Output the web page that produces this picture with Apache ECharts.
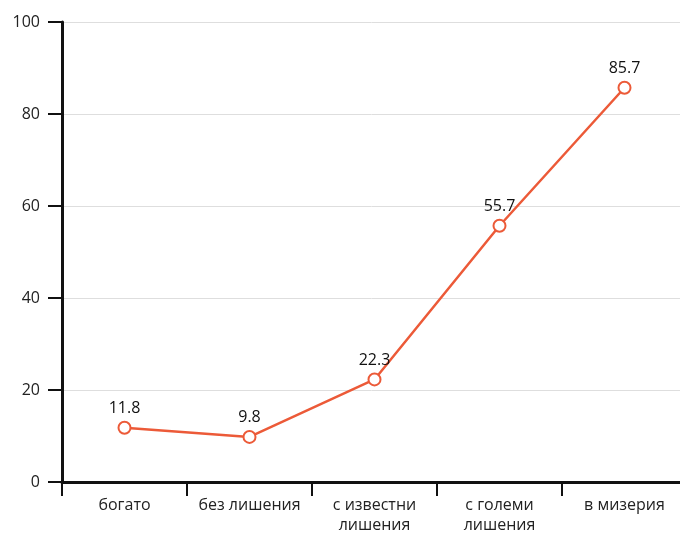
<!DOCTYPE html>
<html>
<head>
<meta charset="utf-8">
<script src="https://cdn.jsdelivr.net/npm/echarts@6/dist/echarts.min.js"></script>
<style>
  html, body { margin: 0; padding: 0; background: #fff; }
  #chart { width: 680px; height: 533px; }
</style>
</head>
<body>
<div id="chart"></div>
<script>
// Living conditions categories and share of respondents (%)
const categories = ['богато', 'без лишения', 'с известни\nлишения', 'с големи\nлишения', 'в мизерия'];
const values = [11.8, 9.8, 22.3, 55.7, 85.7];
const yTicks = { min: 0, max: 100, interval: 20 };

const FONT = '"Open Sans", "Noto Sans", sans-serif';
const LINE_COLOR = '#ec5a38';
const chart = echarts.init(document.getElementById('chart'));

chart.setOption({
  animation: false,
  grid: { left: 62, top: 22, width: 625, height: 460, containLabel: false, outerBoundsMode: 'none' },
  xAxis: {
    type: 'category',
    data: categories,
    boundaryGap: true,
    axisLine: { lineStyle: { color: '#111', width: 3 } },
    axisTick: { show: true, length: 14, lineStyle: { color: '#111', width: 2 } },
    axisLabel: { color: '#222', fontSize: 16, fontFamily: FONT, margin: 13, lineHeight: 20, interval: 0 }
  },
  yAxis: {
    type: 'value',
    min: yTicks.min,
    max: yTicks.max,
    interval: yTicks.interval,
    axisLine: { show: true, lineStyle: { color: '#111', width: 3 } },
    axisTick: { show: true, length: 14, lineStyle: { color: '#111', width: 2 } },
    axisLabel: { color: '#222', fontSize: 16, fontFamily: FONT, margin: 22 },
    splitLine: { show: true, lineStyle: { color: '#dedede', width: 1 } }
  },
  series: [{
    type: 'line',
    data: values,
    symbol: 'emptyCircle',
    symbolSize: 12,
    lineStyle: { color: LINE_COLOR, width: 2.5 },
    itemStyle: { color: LINE_COLOR, borderColor: LINE_COLOR, borderWidth: 2.5 },
    label: {
      show: true,
      position: 'top',
      distance: 4,
      color: '#111',
      fontSize: 16,
      fontFamily: FONT
    }
  }]
});
</script>
</body>
</html>
